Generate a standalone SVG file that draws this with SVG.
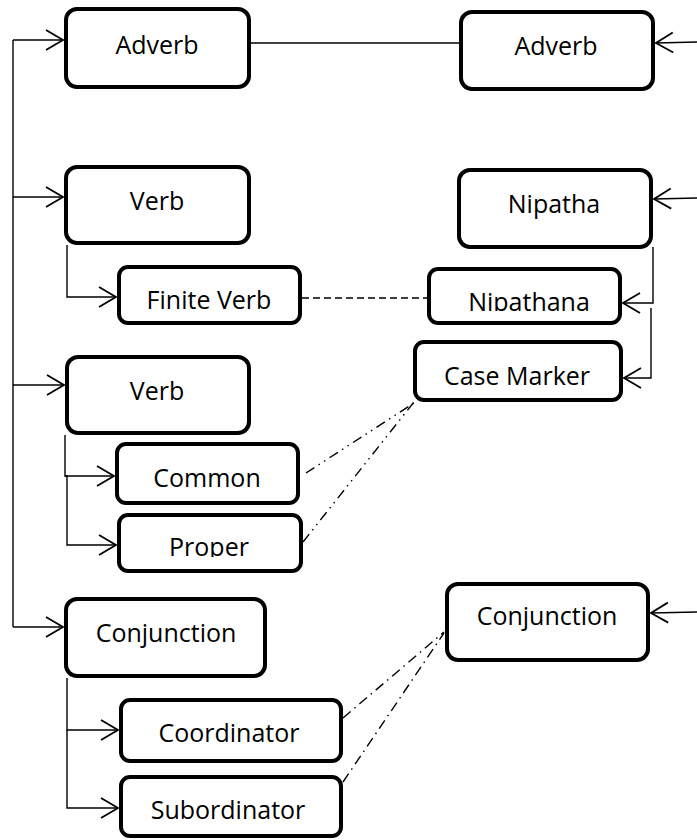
<svg xmlns="http://www.w3.org/2000/svg" width="697" height="840" viewBox="0 0 697 840">
  <style>
    .box { fill: #ffffff; stroke: #000000; stroke-width: 4; }
    .lbl { font-family: "Open Sans", "Liberation Sans", sans-serif; font-size: 25px; fill: #000000; text-anchor: middle; }
    .wire { fill: none; stroke: #000000; stroke-width: 1.4; }
    .dash { fill: none; stroke: #000000; stroke-width: 1.4; stroke-dasharray: 7 4; }
    .dashdotdot { fill: none; stroke: #000000; stroke-width: 1.4; stroke-dasharray: 10 5 1.5 5 1.5 5; }
    .dashdot { fill: none; stroke: #000000; stroke-width: 1.4; stroke-dasharray: 10 5 1.5 5; }
  </style>
  <defs>
    <marker id="open-arrow" viewBox="0 0 20 24" refX="18" refY="12" markerWidth="20" markerHeight="24" markerUnits="userSpaceOnUse" orient="auto">
      <path d="M1,2 L18,12 L1,22" fill="none" stroke="#000000" stroke-width="1.8"/>
    </marker>
    <clipPath id="clip-nipathana"><rect x="429" y="269" width="191" height="42"/></clipPath>
    <clipPath id="clip-proper"><rect x="119" y="515" width="182" height="42"/></clipPath>
  </defs>

  <!-- connectors -->
  <g id="connectors">
    <!-- left trunk feeding the main categories -->
    <path class="wire" d="M13,40 L13,627"/>
    <path class="wire" d="M13,40 L63,40" marker-end="url(#open-arrow)"/>
    <path class="wire" d="M13,197 L63,197" marker-end="url(#open-arrow)"/>
    <path class="wire" d="M13,385 L64,385" marker-end="url(#open-arrow)"/>
    <path class="wire" d="M13,627 L63,627" marker-end="url(#open-arrow)"/>

    <!-- sub-category branches on the left -->
    <path class="wire" d="M67,245 L67,297 L116,297" marker-end="url(#open-arrow)"/>
    <path class="wire" d="M65,435 L65,476 L114,476" marker-end="url(#open-arrow)"/>
    <path class="wire" d="M65,476 L67,476 L67,545 L116,545" marker-end="url(#open-arrow)"/>
    <path class="wire" d="M67,678 L67,730 L118,730" marker-end="url(#open-arrow)"/>
    <path class="wire" d="M67,730 L67,808 L118,808" marker-end="url(#open-arrow)"/>

    <!-- incoming arrows on the right edge -->
    <path class="wire" d="M697,42 L656,43" marker-end="url(#open-arrow)"/>
    <path class="wire" d="M697,198 L654,199" marker-end="url(#open-arrow)"/>
    <path class="wire" d="M697,612 L651,613" marker-end="url(#open-arrow)"/>

    <!-- Nipatha bracket -->
    <path class="wire" d="M653,247 L653,303 L623,303" marker-end="url(#open-arrow)"/>
    <path class="wire" d="M651,308 L651,378 L624,378" marker-end="url(#open-arrow)"/>

    <!-- correspondences -->
    <path class="wire" d="M251,43 L459,43"/>
    <path class="dash" d="M302,298 L427,298"/>
    <path class="dashdotdot" d="M306,473 L417,401"/>
    <path class="dashdotdot" d="M303,542 L414,402"/>
    <path class="dashdot" d="M343,718 L444,632"/>
    <path class="dashdot" d="M343,782 L444,633"/>
  </g>

  <!-- left column -->
  <g id="adverb-left">
    <rect class="box" x="66" y="9" width="183" height="78" rx="11"/>
    <text class="lbl" x="157" y="54">Adverb</text>
  </g>
  <g id="verb-top">
    <rect class="box" x="66" y="167" width="183" height="76" rx="11"/>
    <text class="lbl" x="157" y="210">Verb</text>
  </g>
  <g id="finite-verb">
    <rect class="box" x="119" y="267" width="181" height="56" rx="9"/>
    <text class="lbl" x="209" y="309">Finite Verb</text>
  </g>
  <g id="verb-middle">
    <rect class="box" x="67" y="357" width="182" height="76" rx="11"/>
    <text class="lbl" x="157" y="400">Verb</text>
  </g>
  <g id="common">
    <rect class="box" x="117" y="444" width="181" height="59" rx="9"/>
    <text class="lbl" x="207" y="487">Common</text>
  </g>
  <g id="proper">
    <rect class="box" x="119" y="515" width="182" height="56" rx="9"/>
    <text class="lbl" x="209" y="556" clip-path="url(#clip-proper)">Proper</text>
  </g>
  <g id="conjunction-left">
    <rect class="box" x="66" y="599" width="199" height="77" rx="11"/>
    <text class="lbl" x="166" y="642">Conjunction</text>
  </g>
  <g id="coordinator">
    <rect class="box" x="121" y="700" width="220" height="61" rx="9"/>
    <text class="lbl" x="229" y="742">Coordinator</text>
  </g>
  <g id="subordinator">
    <rect class="box" x="121" y="777" width="220" height="59" rx="9"/>
    <text class="lbl" x="228" y="819">Subordinator</text>
  </g>

  <!-- right column -->
  <g id="adverb-right">
    <rect class="box" x="461" y="12" width="192" height="77" rx="11"/>
    <text class="lbl" x="556" y="55">Adverb</text>
  </g>
  <g id="nipatha">
    <rect class="box" x="459" y="170" width="192" height="77" rx="11"/>
    <text class="lbl" x="554" y="213">Nipatha</text>
  </g>
  <g id="nipathana">
    <rect class="box" x="429" y="269" width="191" height="54" rx="9"/>
    <text class="lbl" x="529" y="311" clip-path="url(#clip-nipathana)">Nipathana</text>
  </g>
  <g id="case-marker">
    <rect class="box" x="415" y="342" width="206" height="58" rx="9"/>
    <text class="lbl" x="517" y="385">Case Marker</text>
  </g>
  <g id="conjunction-right">
    <rect class="box" x="447" y="584" width="201" height="76" rx="11"/>
    <text class="lbl" x="547" y="625">Conjunction</text>
  </g>
</svg>
